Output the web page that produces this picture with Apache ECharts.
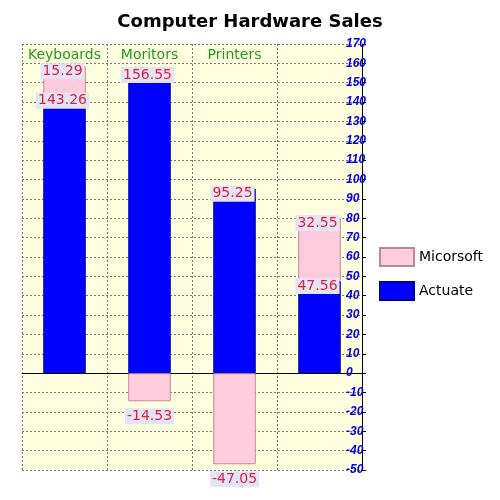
<!DOCTYPE html>
<html>
<head>
<meta charset="utf-8">
<script src="https://cdn.jsdelivr.net/npm/echarts@6/dist/echarts.min.js"></script>
</head>
<body style="margin:0">
<div id="main" style="width:500px;height:500px"></div>
<script>
// data
var categories = ['Keyboards', 'Moritors', 'Printers', ''];
var actuate = [143.26, 156.55, 95.25, 47.56];
var micorsoft = [15.29, -14.53, -47.05, 32.55];

var myCharts = echarts.init(document.getElementById('main'));

var labelStyle = {
    show: true,
    color: '#e0203a',
    fontSize: 14,
    fontFamily: 'DejaVu Sans',
    backgroundColor: '#e4e4f8',
    padding: [1, 2],
    formatter: function (p) { return p.value.toFixed(2); }
};

var option = {
    backgroundColor: '#fff',
    title: {
        text: 'Computer Hardware Sales',
        left: 'center',
        top: 8,
        textStyle: { fontSize: 18, fontWeight: 'bold', color: '#000', fontFamily: 'DejaVu Sans' }
    },
    legend: {
        orient: 'vertical',
        left: 374,
        top: 242,
        itemGap: 14,
        itemWidth: 34,
        itemHeight: 18,
        icon: 'rect',
        data: ['Micorsoft', 'Actuate'],
        textStyle: { fontSize: 14, color: '#000', fontFamily: 'DejaVu Sans' }
    },
    grid: { left: 22, right: 138, top: 44, bottom: 30, show: true, backgroundColor: '#ffffe0', borderWidth: 0 },
    xAxis: {
        type: 'category',
        data: categories,
        position: 'top',
        axisLine: { lineStyle: { color: '#000' } },
        axisTick: { show: false },
        axisLabel: { inside: true, interval: 0, color: '#229922', fontSize: 14, fontFamily: 'DejaVu Sans', margin: 4, verticalAlign: 'top' },
        splitLine: { show: true, lineStyle: { color: '#777', type: [2, 2] } }
    },
    yAxis: {
        type: 'value',
        position: 'right',
        min: -50,
        max: 170,
        interval: 10,
        axisLine: { show: true, lineStyle: { color: '#000' } },
        axisTick: { show: true, length: 4 },
        axisLabel: { color: '#0000ee', fontStyle: 'italic', fontWeight: 'bold', fontSize: 12, margin: -16, align: 'left' },
        splitLine: { lineStyle: { color: '#777', type: [2, 2] } }
    },
    series: [
        {
            name: 'Actuate',
            type: 'bar',
            stack: 'all',
            barWidth: '50%',
            data: actuate,
            itemStyle: { color: '#0000ff', borderColor: '#0000aa', borderWidth: 1 },
            label: Object.assign({}, labelStyle, { position: 'insideTop', offset: [-2, -8] })
        },
        {
            name: 'Micorsoft',
            type: 'bar',
            stack: 'all',
            barWidth: '50%',
            data: micorsoft.map(function (v) {
                return { value: v, label: { position: v < 0 ? 'bottom' : 'insideTop', offset: v < 0 ? [0, 2] : [-2, -8] } };
            }),
            itemStyle: { color: '#ffccdd', borderColor: '#bb8899', borderWidth: 1 },
            label: labelStyle
        }
    ]
};

myCharts.setOption(option);
</script>
</body>
</html>
